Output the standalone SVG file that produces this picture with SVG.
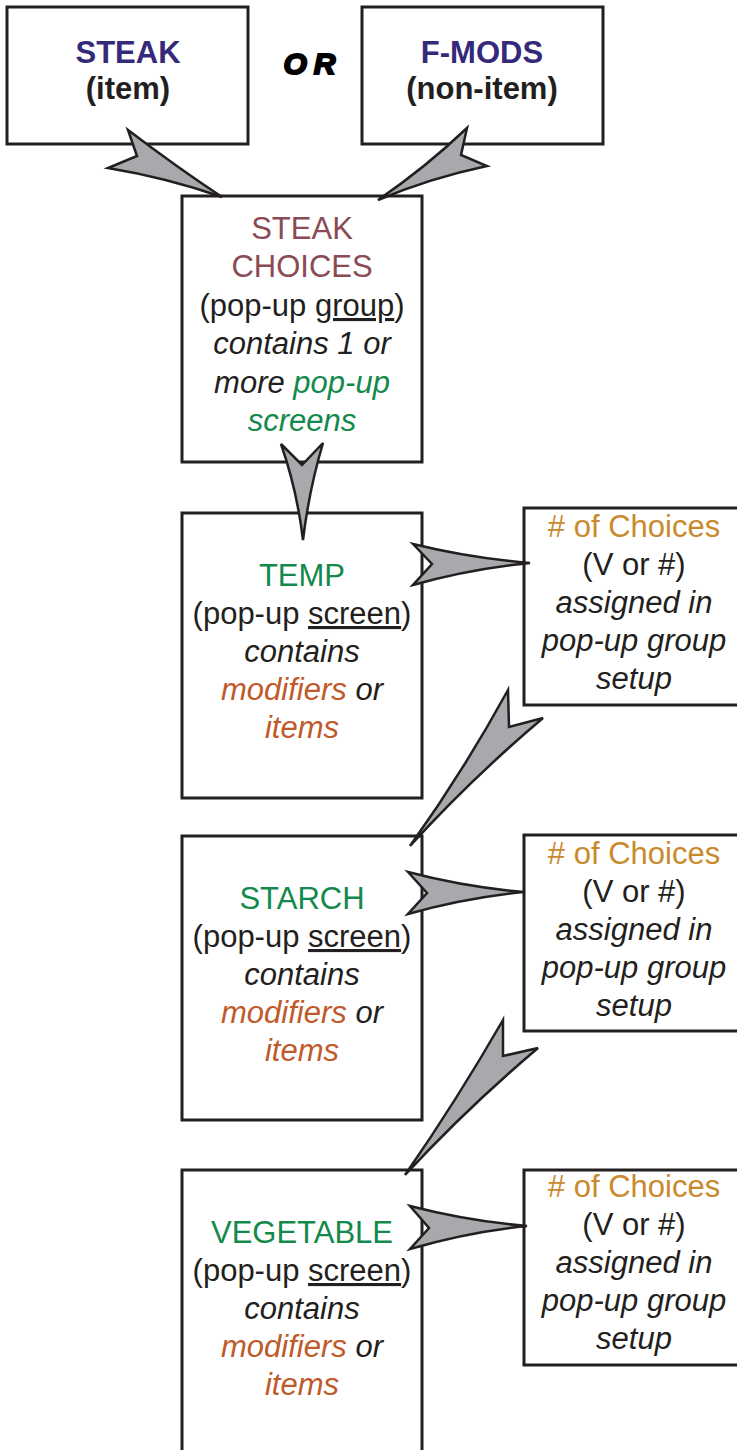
<svg xmlns="http://www.w3.org/2000/svg" width="737" height="1450" viewBox="0 0 737 1450">
  <style>
    .box { fill: #ffffff; stroke: #231f20; stroke-width: 3; }
    .arrow { fill: #a7a9ac; stroke: #231f20; stroke-width: 2.5; stroke-linejoin: miter; }
    text { font-family: "Liberation Sans", Arial, Helvetica, sans-serif; font-size: 31px; fill: #231f20; text-anchor: middle; }
    .b { font-weight: bold; }
    .i { font-style: italic; }
    .navy { fill: #352a7a; }
    .maroon { fill: #8a4b55; }
    .green { fill: #13894b; }
    .orange { fill: #bf5a2a; }
    .gold { fill: #c98a2e; }
    .u { text-decoration: underline; }
    .or { font-weight: 900; font-style: italic; font-size: 30px; letter-spacing: 7px; stroke: #000; stroke-width: 2px; fill: #000; }
  </style>

  <!-- top sources -->
  <g id="steak">
    <rect class="box" x="7" y="7" width="241" height="137"/>
    <text x="128" y="63" class="b navy">STEAK</text>
    <text x="128" y="99" class="b">(item)</text>
  </g>
  <text class="or" x="313" y="74">OR</text>
  <g id="fmods">
    <rect class="box" x="362" y="7" width="241" height="137"/>
    <text x="482" y="63" class="b navy">F-MODS</text>
    <text x="482" y="99" class="b">(non-item)</text>
  </g>

  <!-- pop-up group -->
  <g id="steak-choices">
    <rect class="box" x="182" y="196" width="240" height="266"/>
    <text x="302" y="239" class="maroon">STEAK</text>
    <text x="302" y="277" class="maroon">CHOICES</text>
    <text x="302" y="316">(pop-up <tspan class="u">group</tspan>)</text>
    <text x="302" y="354" class="i">contains 1 or</text>
    <text x="302" y="393" class="i">more <tspan class="green">pop-up</tspan></text>
    <text x="302" y="431" class="i green">screens</text>
  </g>

  <!-- pop-up screens -->
  <g id="temp">
    <rect class="box" x="182" y="513" width="240" height="285"/>
    <text x="302" y="586" class="green">TEMP</text>
    <text x="302" y="624">(pop-up <tspan class="u">screen</tspan>)</text>
    <text x="302" y="662" class="i">contains</text>
    <text x="302" y="700" class="i"><tspan class="orange">modifiers</tspan> or</text>
    <text x="302" y="738" class="i orange">items</text>
  </g>
  <g id="starch">
    <rect class="box" x="182" y="836" width="240" height="284"/>
    <text x="302" y="909" class="green">STARCH</text>
    <text x="302" y="947">(pop-up <tspan class="u">screen</tspan>)</text>
    <text x="302" y="985" class="i">contains</text>
    <text x="302" y="1023" class="i"><tspan class="orange">modifiers</tspan> or</text>
    <text x="302" y="1061" class="i orange">items</text>
  </g>
  <g id="vegetable">
    <rect class="box" x="182" y="1170" width="240" height="290"/>
    <text x="302" y="1243" class="green">VEGETABLE</text>
    <text x="302" y="1281">(pop-up <tspan class="u">screen</tspan>)</text>
    <text x="302" y="1319" class="i">contains</text>
    <text x="302" y="1357" class="i"><tspan class="orange">modifiers</tspan> or</text>
    <text x="302" y="1395" class="i orange">items</text>
  </g>

  <!-- choice counts -->
  <g id="choices-1">
    <rect class="box" x="524" y="508" width="220" height="197"/>
    <text x="634" y="537" class="gold"># of Choices</text>
    <text x="634" y="575">(V or #)</text>
    <text x="634" y="613" class="i">assigned in</text>
    <text x="634" y="651" class="i">pop-up group</text>
    <text x="634" y="689" class="i">setup</text>
  </g>
  <g id="choices-2">
    <rect class="box" x="524" y="835" width="220" height="196"/>
    <text x="634" y="864" class="gold"># of Choices</text>
    <text x="634" y="902">(V or #)</text>
    <text x="634" y="940" class="i">assigned in</text>
    <text x="634" y="978" class="i">pop-up group</text>
    <text x="634" y="1016" class="i">setup</text>
  </g>
  <g id="choices-3">
    <rect class="box" x="524" y="1170" width="220" height="195"/>
    <text x="634" y="1197" class="gold"># of Choices</text>
    <text x="634" y="1235">(V or #)</text>
    <text x="634" y="1273" class="i">assigned in</text>
    <text x="634" y="1311" class="i">pop-up group</text>
    <text x="634" y="1349" class="i">setup</text>
  </g>

  <!-- connectors -->
  <g id="connectors">
    <path class="arrow" d="M128,130 L137,156 L108,168 Q168,178 222,197 Q178,168 128,130 Z"/>
    <path class="arrow" d="M467,128 L461,155 L487,166 Q430,178 378,200 Q425,168 467,128 Z"/>
    <path class="arrow" d="M281,444 L302,465 L323,443 Q309,490 303,540 Q297,490 281,444 Z"/>
    <path class="arrow" d="M413,544 L432,564 L413,585 Q470,569 530,563 Q470,558 413,544 Z"/>
    <path class="arrow" d="M508,690 L509,727 L543,718 Q472,778 410,846 Q463,772 508,690 Z"/>
    <path class="arrow" d="M408,872 L427,893 L408,914 Q465,898 524,892 Q465,887 408,872 Z"/>
    <path class="arrow" d="M503,1020 L503,1056 L538,1048 Q467,1108 405,1175 Q457,1100 503,1020 Z"/>
    <path class="arrow" d="M410,1206 L429,1228 L410,1249 Q468,1232 527,1226 Q468,1221 410,1206 Z"/>
  </g>
</svg>
